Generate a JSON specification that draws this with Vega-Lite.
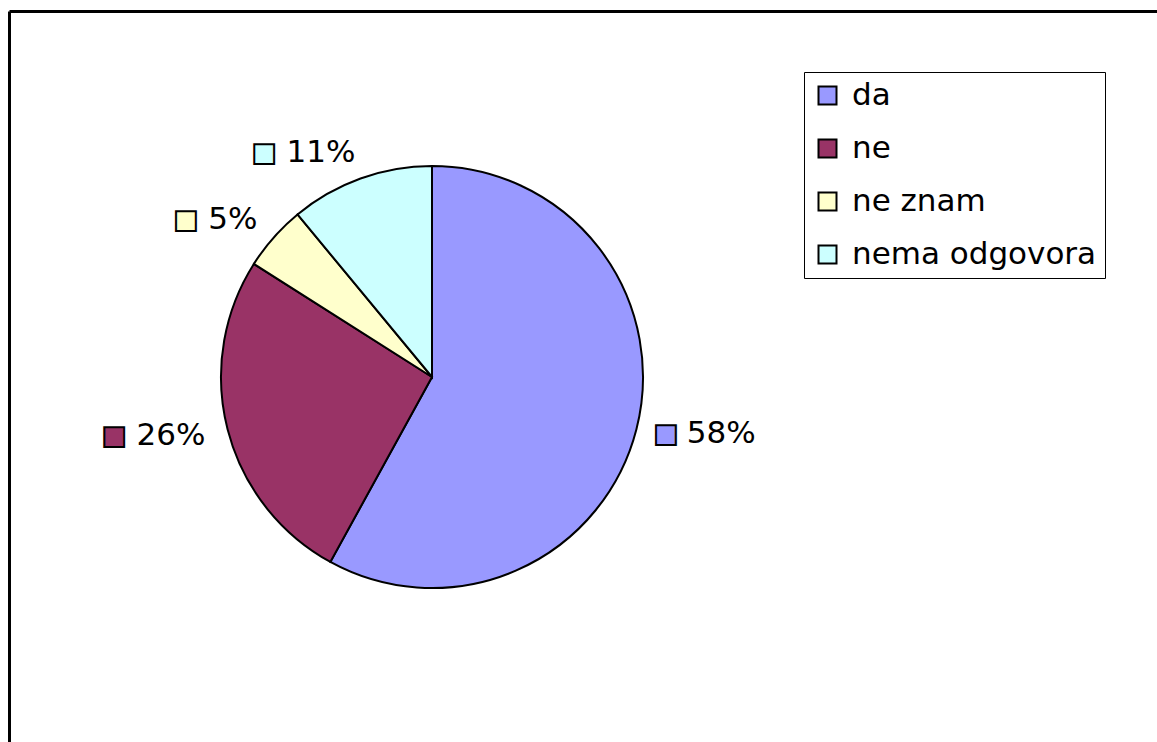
{
  "$schema": "https://vega.github.io/schema/vega-lite/v6.json",
  "width": 1148,
  "height": 731,
  "autosize": {"type": "none"},
  "padding": {"left": 9, "top": 11, "right": 0, "bottom": 0},
  "background": "white",
  "view": {"stroke": null},
  "config": {
    "view": {"stroke": null},
    "font": "DejaVu Sans"
  },
  "data": {
    "values": [
      {"answer": "da", "share": 0.58},
      {"answer": "ne", "share": 0.26},
      {"answer": "ne znam", "share": 0.05},
      {"answer": "nema odgovora", "share": 0.11}
    ]
  },
  "layer": [
    {
      "mark": {"type": "point", "opacity": 0},
      "encoding": {
        "x": {
          "field": "share",
          "type": "quantitative",
          "axis": {"orient": "top", "domain": true, "domainColor": "black", "domainWidth": 3, "ticks": false, "labels": false, "grid": false, "title": null}
        },
        "y": {
          "field": "share",
          "type": "quantitative",
          "axis": {"orient": "left", "domain": true, "domainColor": "black", "domainWidth": 3, "ticks": false, "labels": false, "grid": false, "title": null}
        }
      }
    },
    {
      "mark": {"type": "arc", "x": 423, "y": 366, "outerRadius": 211, "stroke": "black", "strokeWidth": 2},
      "encoding": {
        "theta": {"field": "share", "type": "quantitative", "stack": true, "scale": {"domain": [0, 1]}},
        "order": {"field": "answer", "type": "ordinal", "sort": "ascending"},
        "color": {
          "field": "answer",
          "type": "nominal",
          "scale": {
            "domain": ["da", "ne", "ne znam", "nema odgovora"],
            "range": ["#9999FF", "#993366", "#FFFFCC", "#CCFFFF"]
          },
          "legend": {
            "title": null,
            "orient": "none",
            "legendX": 795,
            "legendY": 61,
            "strokeColor": "black",
            "fillColor": "white",
            "padding": 8,
            "symbolType": "square",
            "symbolSize": 324,
            "symbolStrokeColor": "black",
            "symbolStrokeWidth": 2,
            "labelFont": "DejaVu Sans",
            "labelFontSize": 31,
            "labelColor": "black",
            "labelOffset": 9,
            "labelLimit": 0,
            "rowPadding": 21
          }
        }
      }
    },
    {
      "mark": {
        "type": "text",
        "x": 423,
        "y": 366,
        "radius": {"expr": "datum.answer == 'da' ? 229 : 238"},
        "text": "■",
        "font": "DejaVu Sans",
        "fontSize": 26,
        "stroke": "black",
        "strokeWidth": 2,
        "baseline": "middle",
        "align": {"expr": "datum.answer == 'da' ? 'left' : 'right'"},
        "dx": {"expr": "datum.answer == 'da' ? 0 : 4 - (31 * (0.636 * (datum.share >= 0.1 ? 2 : 1) + 0.95) + 10)"}
      },
      "encoding": {
        "theta": {"field": "share", "type": "quantitative", "stack": true},
        "order": {"field": "answer", "type": "ordinal", "sort": "ascending"},
        "color": {"field": "answer", "type": "nominal", "legend": null}
      }
    },
    {
      "mark": {
        "type": "text",
        "x": 423,
        "y": 366,
        "radius": {"expr": "datum.answer == 'da' ? 229 : 238"},
        "font": "DejaVu Sans",
        "fontSize": 31,
        "baseline": "middle",
        "align": {"expr": "datum.answer == 'da' ? 'left' : 'right'"},
        "dx": {"expr": "datum.answer == 'da' ? 33 : 4"}
      },
      "encoding": {
        "theta": {"field": "share", "type": "quantitative", "stack": true},
        "order": {"field": "answer", "type": "ordinal", "sort": "ascending"},
        "text": {"field": "share", "type": "quantitative", "format": ".0%"},
        "color": {"value": "black"}
      }
    }
  ]
}
